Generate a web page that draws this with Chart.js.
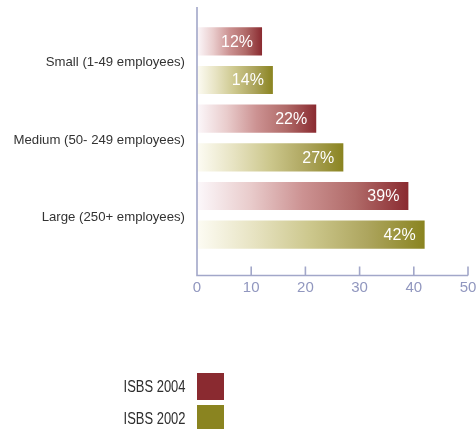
<!DOCTYPE html>
<html>
<head>
<meta charset="utf-8">
<script src="https://cdn.jsdelivr.net/npm/chart.js@4.4.0/dist/chart.umd.min.js"></script>
<style>
  html, body { margin: 0; padding: 0; background: #fff; }
  #wrap { position: relative; width: 476px; height: 429px; overflow: hidden; }
  .legend-row { position: absolute; left: 0; width: 476px; height: 27px; }
  .legend-row span {
    position: absolute; right: 291px; top: 5px; line-height: 27px;
    font: 16px "Liberation Sans", Arial, sans-serif; color: #2e2e2e;
    transform: scaleX(0.81); transform-origin: right center;
  }
  .legend-row i { position: absolute; left: 197px; top: 0; width: 27px; height: 27px; }
</style>
</head>
<body>
<div id="wrap">
  <canvas id="chart1" width="476" height="429"></canvas>
  <div id="legend"></div>
</div>
<script>
// Share of businesses, by size band
const categories = ['Small (1-49 employees)', 'Medium (50- 249 employees)', 'Large (250+ employees)'];
const isbs2004 = [12, 22, 39];
const isbs2002 = [14, 27, 42];
const seriesNames = ['ISBS 2004', 'ISBS 2002'];
const xTicks = [0, 10, 20, 30, 40, 50];

const red = '#8a2a30';
const olive = '#8a8420';
const redStops = ['#fcf8fb', '#e9cccc', '#cc9292', '#b06a68', red];
const oliveStops = ['#fdfcf4', '#e7e3c2', '#ccc78c', '#ada55e', olive];
const axisColor = '#a2a7c9';

// each bar fades in from white at zero to the full colour at its end
function barGradient(ctx, stops) {
    const chart = ctx.chart;
    if (!chart.chartArea) return stops[stops.length - 1];
    const x0 = chart.scales.x.getPixelForValue(0);
    const x1 = chart.scales.x.getPixelForValue(ctx.raw);
    const g = chart.ctx.createLinearGradient(x0, 0, x1, 0);
    stops.forEach((c, i) => g.addColorStop(i / (stops.length - 1), c));
    return g;
}

// axis lines run past the plot area, with tick marks pointing up
const axesPlugin = {
    id: 'axes',
    afterDraw(chart) {
        const { ctx, chartArea, scales } = chart;
        const left = chartArea.left;
        const baseY = chartArea.bottom + 21.5;
        ctx.save();
        ctx.strokeStyle = axisColor;
        ctx.lineWidth = 1.6;
        ctx.beginPath();
        ctx.moveTo(left, chartArea.top - 15);
        ctx.lineTo(left, baseY);
        ctx.lineTo(chartArea.right, baseY);
        xTicks.forEach(v => {
            const x = scales.x.getPixelForValue(v);
            ctx.moveTo(x, baseY);
            ctx.lineTo(x, baseY - 9);
        });
        ctx.stroke();
        ctx.restore();
    }
};

const valueLabels = {
    id: 'valueLabels',
    afterDatasetsDraw(chart) {
        const ctx = chart.ctx;
        ctx.save();
        ctx.fillStyle = '#ffffff';
        ctx.font = '16px "Liberation Sans", Arial, sans-serif';
        ctx.textAlign = 'right';
        ctx.textBaseline = 'middle';
        chart.data.datasets.forEach((ds, i) => {
            chart.getDatasetMeta(i).data.forEach((bar, j) => {
                ctx.fillText(ds.data[j] + '%', bar.x - 9, bar.y + 1);
            });
        });
        ctx.restore();
    }
};

const chart1 = new Chart(document.getElementById('chart1').getContext('2d'), {
    type: 'bar',
    data: {
        labels: categories,
        datasets: [{
            label: seriesNames[0],
            data: isbs2004,
            backgroundColor: ctx => barGradient(ctx, redStops)
        }, {
            label: seriesNames[1],
            data: isbs2002,
            backgroundColor: ctx => barGradient(ctx, oliveStops)
        }]
    },
    options: {
        indexAxis: 'y',
        responsive: false,
        animation: false,
        categoryPercentage: 1.0,
        barPercentage: 0.73,
        layout: { padding: { top: 22, right: 8, bottom: 135, left: 0 } },
        plugins: {
            legend: { display: false },
            tooltip: { enabled: false }
        },
        scales: {
            x: {
                min: 0,
                max: 50,
                afterFit(scale) {
                    scale.height = 40;
                    scale.paddingLeft = 0;
                    scale.paddingRight = 0;
                },
                afterBuildTicks(scale) {
                    scale.ticks = xTicks.map(v => ({ value: v }));
                },
                grid: { display: false, drawTicks: false },
                border: { display: false },
                ticks: {
                    padding: 25,
                    color: '#9197bf',
                    font: { family: '"Liberation Sans", Arial', size: 15 }
                }
            },
            y: {
                afterFit(scale) { scale.width = 197; },
                grid: { display: false, drawTicks: false },
                border: { display: false },
                ticks: {
                    padding: 12,
                    labelOffset: 2,
                    color: '#333333',
                    font: { family: '"Liberation Sans", Arial', size: 13.2 }
                }
            }
        }
    },
    plugins: [axesPlugin, valueLabels]
});

// legend below the chart: name on the left, swatch on the right
const legendColors = [red, olive];
const legendTops = [373, 405];
const legend = document.getElementById('legend');
seriesNames.forEach((name, i) => {
    const row = document.createElement('div');
    row.className = 'legend-row';
    row.style.top = legendTops[i] + 'px';
    row.innerHTML = `<span>${name}</span><i style="background:${legendColors[i]}"></i>`;
    legend.appendChild(row);
});
</script>
</body>
</html>
